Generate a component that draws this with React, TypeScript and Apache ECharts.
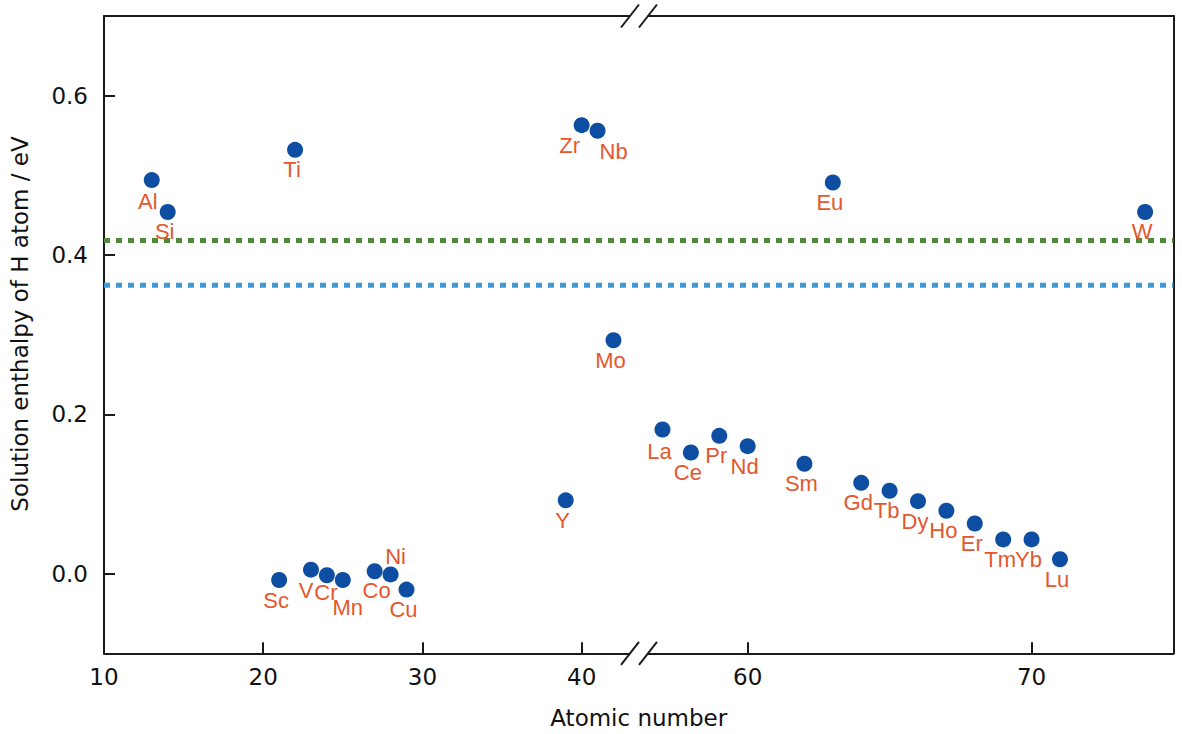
import React, { useEffect, useRef } from 'react';
import * as echarts from 'echarts';

// left part of the broken axis (Z = 10 ... 43)
const leftSymbols = ['Al', 'Si', 'Sc', 'Ti', 'V', 'Cr', 'Mn', 'Co', 'Ni', 'Cu', 'Y', 'Zr', 'Nb', 'Mo'];
const leftZ = [13, 14, 21, 22, 23, 24, 25, 27, 28, 29, 39, 40, 41, 42];
const leftEnthalpy = [0.494, 0.454, -0.008, 0.532, 0.005, -0.002, -0.008, 0.003, -0.001, -0.02, 0.092, 0.563, 0.556, 0.293];

// right part (Z = 56.5 ... 75)
const rightSymbols = ['La', 'Ce', 'Pr', 'Nd', 'Sm', 'Eu', 'Gd', 'Tb', 'Dy', 'Ho', 'Er', 'Tm', 'Yb', 'Lu', 'W'];
const rightZ = [57, 58, 59, 60, 62, 63, 64, 65, 66, 67, 68, 69, 70, 71, 74];
const rightEnthalpy = [0.181, 0.152, 0.173, 0.16, 0.138, 0.491, 0.114, 0.104, 0.091, 0.079, 0.063, 0.043, 0.043, 0.018, 0.454];

// horizontal reference levels
const refLevels = [0.418, 0.362];
const refColors = ['#4f8a3c', '#3f9ad6'];

const yTicks = [0, 0.2, 0.4, 0.6];
const leftXTicks = [10, 20, 30, 40];
const rightXTicks = [60, 70];

// label nudges (px), default is just below the dot
const labelOffsets: Record<string, number[]> = {
    Al: [-4, 21],
    V: [-5, 21],
    Cr: [-1, 17],
    Mn: [5, 27],
    Co: [2, 19],
    Ni: [5, -18],
    Zr: [-12, 20],
    Nb: [16, 21],
    La: [-3, 22],
};

const AXIS_FONT = '"DejaVu Sans", Verdana, sans-serif';
const LABEL_FONT = '"Liberation Sans", Arial, Helvetica, sans-serif';
const AXIS = '#1a1a1a';
const DOT = '#0d4ea3';
const LABEL = '#e4572e';

// layout
const TOP = 16;
const BOTTOM = 653.3;
const L0 = 104;
const L0_END = 629.4;
const R0 = 648.3;
const R0_END = 1173.5;

const points = (syms: string[], zs: number[], vals: number[]) =>
    syms.map((s, i) => ({
        name: s,
        value: [zs[i], vals[i]],
        label: { offset: labelOffsets[s] || [-3, 20] },
    }));

const App: React.FC = () => {
    const chartRef = useRef<HTMLDivElement>(null);

    useEffect(() => {
        if (!chartRef.current) return;
        const chart = echarts.init(chartRef.current, null, { renderer: 'svg' });

        const frame = { show: true, onZero: false, lineStyle: { color: AXIS, width: 2 } };
        const tick = (vals: number[]) => ({
            show: true,
            inside: true,
            length: 11,
            customValues: vals,
            lineStyle: { color: AXIS, width: 2 },
        });
        const bare = {
            axisLine: frame,
            axisTick: { show: false },
            axisLabel: { show: false },
            splitLine: { show: false },
        };
        const tickLabel = { fontSize: 23, color: '#111', fontFamily: AXIS_FONT };
        const pointLabel = {
            show: true, position: 'inside', formatter: '{b}',
            color: LABEL, fontSize: 22, lineHeight: 15, fontFamily: LABEL_FONT,
        };

        const breakLines: any[] = [];
        [TOP, BOTTOM].forEach(y => {
            [L0_END + 0.6, R0 - 0.3].forEach(cx => {
                breakLines.push({
                    type: 'line',
                    shape: { x1: cx - 9, y1: y + 11.5, x2: cx + 9, y2: y - 11.5 },
                    style: { stroke: AXIS, lineWidth: 2 },
                    z: 10,
                });
            });
        });

        const option: any = {
            animation: false,
            backgroundColor: '#fff',
            textStyle: { fontFamily: LABEL_FONT },
            grid: [
                { left: L0, top: TOP, width: L0_END - L0, height: BOTTOM - TOP },
                { left: R0, top: TOP, width: R0_END - R0, height: BOTTOM - TOP },
                { left: L0, top: TOP, width: R0_END - L0, height: BOTTOM - TOP },
            ],
            xAxis: [
                {
                    type: 'value', gridIndex: 0, min: 10, max: 43, position: 'bottom',
                    axisLine: frame,
                    axisTick: tick(leftXTicks),
                    axisLabel: { customValues: leftXTicks, margin: 12, ...tickLabel },
                    splitLine: { show: false },
                },
                {
                    type: 'value', gridIndex: 1, min: 56.5, max: 75, position: 'bottom',
                    axisLine: frame,
                    axisTick: tick(rightXTicks),
                    axisLabel: { customValues: rightXTicks, margin: 12, ...tickLabel },
                    splitLine: { show: false },
                },
                { type: 'value', gridIndex: 0, min: 10, max: 43, position: 'top', ...bare },
                { type: 'value', gridIndex: 1, min: 56.5, max: 75, position: 'top', ...bare },
                {
                    type: 'value', gridIndex: 2, min: 0, max: 1, position: 'bottom',
                    axisLine: { show: false }, axisTick: { show: false }, axisLabel: { show: false },
                    splitLine: { show: false },
                    name: 'Atomic number', nameLocation: 'middle', nameGap: 53,
                    nameTextStyle: tickLabel,
                },
            ],
            yAxis: [
                {
                    type: 'value', gridIndex: 0, min: -0.1, max: 0.7, position: 'left',
                    axisLine: frame,
                    axisTick: tick(yTicks),
                    axisLabel: {
                        customValues: yTicks, margin: 16, ...tickLabel,
                        formatter: (v: number) => v.toFixed(1),
                    },
                    splitLine: { show: false },
                },
                { type: 'value', gridIndex: 1, min: -0.1, max: 0.7, position: 'right', ...bare },
                {
                    type: 'value', gridIndex: 2, min: -0.1, max: 0.7, position: 'left',
                    show: false,
                },
            ],
            series: [
                ...refLevels.map((lvl, i) => ({
                    type: 'line',
                    xAxisIndex: 4,
                    yAxisIndex: 2,
                    data: [[0, lvl], [1, lvl]],
                    symbol: 'none',
                    silent: true,
                    z: 1,
                    lineStyle: { color: refColors[i], width: 5, type: [6, 6], cap: 'butt' },
                })),
                {
                    type: 'scatter',
                    xAxisIndex: 0,
                    yAxisIndex: 0,
                    data: points(leftSymbols, leftZ, leftEnthalpy),
                    symbolSize: 16,
                    itemStyle: { color: DOT, opacity: 1 },
                    z: 3,
                    label: pointLabel,
                },
                {
                    type: 'scatter',
                    xAxisIndex: 1,
                    yAxisIndex: 1,
                    data: points(rightSymbols, rightZ, rightEnthalpy),
                    symbolSize: 16,
                    itemStyle: { color: DOT, opacity: 1 },
                    z: 3,
                    label: pointLabel,
                },
            ],
            graphic: [
                ...breakLines,
                {
                    type: 'text',
                    x: 20,
                    y: 324,
                    rotation: Math.PI / 2,
                    style: {
                        text: 'Solution enthalpy of H atom / eV',
                        fill: '#111',
                        fontSize: 23,
                        fontFamily: AXIS_FONT,
                        align: 'center',
                        verticalAlign: 'middle',
                    },
                },
            ],
        };

        chart.setOption(option);
        const resize = () => chart.resize();
        window.addEventListener('resize', resize);

        return () => {
            window.removeEventListener('resize', resize);
            chart.dispose();
        };
    }, []);

    return (
        <div
            ref={chartRef}
            style={{ position: 'fixed', left: 0, top: 0, width: '1182px', height: '734px', background: '#fff' }}
        />
    );
};

export default App;
